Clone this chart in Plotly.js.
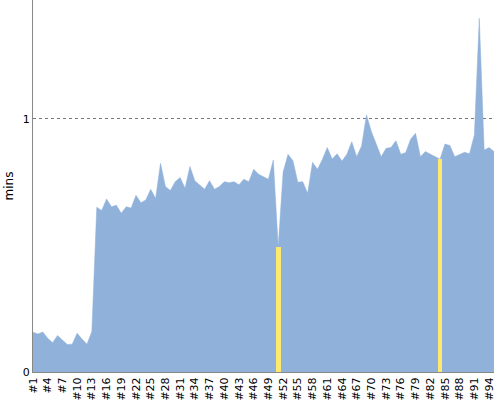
<!DOCTYPE html>
<html>
<head>
<meta charset="utf-8">
<script src="https://cdn.plot.ly/plotly-3.0.1.min.js"></script>
<style>html,body{margin:0;padding:0;background:#fff;}#chart{width:500px;height:400px;}</style>
</head>
<body>
<div id="chart"></div>
<script>
var categories = ["#1","#2","#3","#4","#5","#6","#7","#8","#9","#10",
"#11","#12","#13","#14","#15","#16","#17","#18","#19","#20",
"#21","#22","#23","#24","#25","#26","#27","#28","#29","#30",
"#31","#32","#33","#34","#35","#36","#37","#38","#39","#40",
"#41","#42","#43","#44","#45","#46","#47","#48","#49","#50",
"#51","#52","#53","#54","#55","#56","#57","#58","#59","#60",
"#61","#62","#63","#64","#65","#66","#67","#68","#69","#70",
"#71","#72","#73","#74","#75","#76","#77","#78","#79","#80",
"#81","#82","#83","#84","#85","#86","#87","#88","#89","#90",
"#91","#92","#93","#94","#95"];

var minutes = [0.157,0.150,0.158,0.133,0.116,0.144,0.126,0.109,0.110,0.153,
0.130,0.110,0.160,0.651,0.638,0.684,0.653,0.659,0.627,0.653,
0.648,0.698,0.669,0.680,0.722,0.686,0.825,0.733,0.717,0.752,
0.769,0.726,0.812,0.756,0.739,0.722,0.756,0.722,0.733,0.752,
0.748,0.752,0.740,0.762,0.752,0.801,0.781,0.772,0.762,0.838,
0.495,0.790,0.860,0.835,0.750,0.752,0.706,0.829,0.801,0.840,
0.887,0.842,0.862,0.834,0.860,0.910,0.851,0.893,1.016,0.950,
0.897,0.851,0.884,0.887,0.914,0.860,0.867,0.920,0.943,0.851,
0.871,0.862,0.851,0.841,0.901,0.895,0.851,0.858,0.868,0.862,
0.937,1.398,0.877,0.887,0.871];

var highlightCats = ["#51","#84"];
var highlightVals = [0.495,0.841];

var area = {
  type: "scatter",
  mode: "lines",
  x: categories,
  y: minutes,
  fill: "tozeroy",
  fillcolor: "rgb(143,177,218)",
  line: {color: "rgb(143,177,218)", width: 0.5},
  hoverinfo: "skip",
  showlegend: false
};

var highlight = {
  type: "bar",
  x: highlightCats,
  y: highlightVals,
  width: 0.95,
  marker: {color: "rgb(253,233,110)", line: {width: 0}},
  yaxis: "y2",
  hoverinfo: "skip",
  showlegend: false
};

var layout = {
  width: 500,
  height: 400,
  margin: {l: 33, r: 6, t: 0, b: 28, pad: 0},
  paper_bgcolor: "#fff",
  plot_bgcolor: "#fff",
  font: {family: "DejaVu Sans, sans-serif", size: 11, color: "#000"},
  showlegend: false,
  bargap: 0,
  xaxis: {
    type: "category",
    categoryorder: "array",
    categoryarray: categories,
    range: [0, 94],
    tickmode: "linear",
    tick0: 0,
    dtick: 3,
    tickangle: -90,
    ticks: "",
    showgrid: false,
    zeroline: false,
    showline: true,
    linecolor: "#888",
    linewidth: 1,
    tickfont: {family: "DejaVu Sans, sans-serif", size: 11, color: "#000"},
    automargin: false
  },
  yaxis: {
    range: [0, 1.47],
    tickmode: "array",
    tickvals: [0, 1],
    ticktext: ["0", "1"],
    ticks: "",
    showgrid: true,
    gridcolor: "#777",
    griddash: "dot",
    gridwidth: 1,
    zeroline: false,
    showline: true,
    linecolor: "#888",
    linewidth: 1,
    tickfont: {family: "DejaVu Sans, sans-serif", size: 11, color: "#000"},
    title: {text: "mins", font: {family: "DejaVu Sans, sans-serif", size: 12, color: "#000"}, standoff: 6},
    automargin: false
  },
  yaxis2: {
    overlaying: "y",
    range: [0, 1.47],
    visible: false,
    showgrid: false,
    zeroline: false
  }
};

Plotly.newPlot("chart", [area, highlight], layout, {staticPlot: true, displayModeBar: false});
</script>
</body>
</html>
